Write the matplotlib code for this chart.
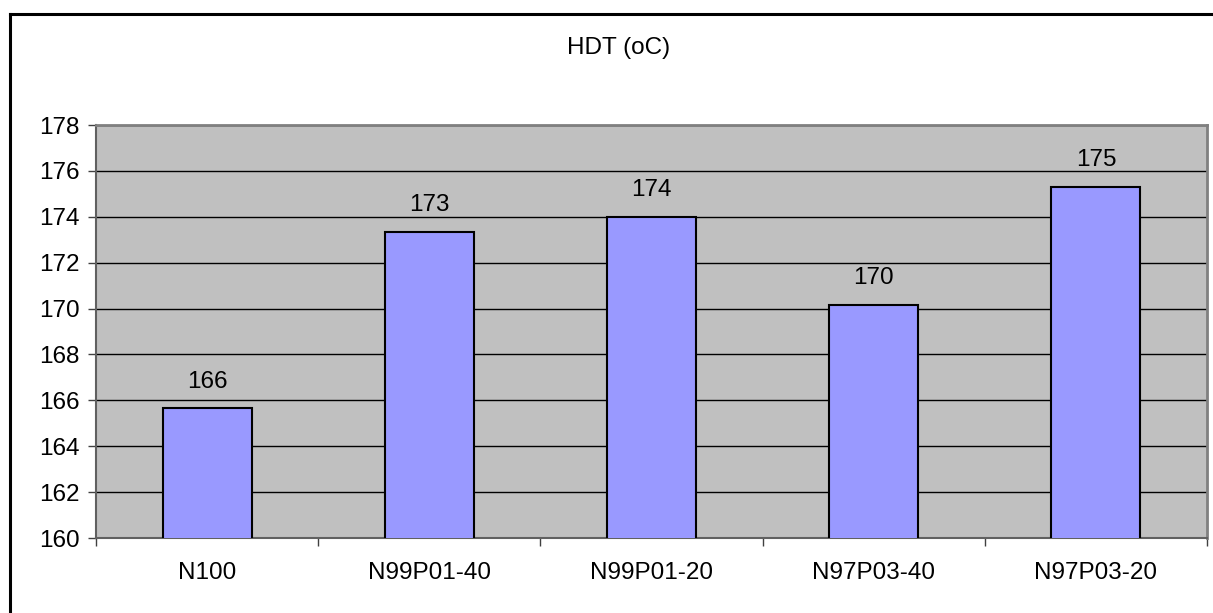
import matplotlib.pyplot as plt
from matplotlib.lines import Line2D

# Data
samples = ['N100', 'N99P01-40', 'N99P01-20', 'N97P03-40', 'N97P03-20']
hdt = [165.65, 173.35, 174.0, 170.15, 175.3]
y_ticks = list(range(160, 179, 2))

plt.rcParams['font.family'] = ['Liberation Sans', 'DejaVu Sans']
fs = 17.5

fig = plt.figure(figsize=(12.13, 6.13), dpi=100)
fig.patch.set_facecolor('white')

# Outer chart frame (left and top edges only, rest runs off the image)
fig.add_artist(Line2D([10 / 1213, 10 / 1213], [0, 1 - 14 / 613], color='black', lw=2.2,
                      transform=fig.transFigure))
fig.add_artist(Line2D([10 / 1213, 1], [1 - 14 / 613, 1 - 14 / 613], color='black', lw=2.2,
                      transform=fig.transFigure))

ax = fig.add_axes([96 / 1213, 1 - 538 / 613, (1207 - 96) / 1213, (538 - 125) / 613])
ax.set_facecolor('#C0C0C0')

x = range(len(samples))
ax.bar(x, hdt, width=0.4, bottom=0, color='#9999FF', edgecolor='black', linewidth=1.5, zorder=3)

# Value labels above bars
for i, v in enumerate(hdt):
    ax.annotate(f"{v:.0f}", xy=(i, v), xytext=(0, 15), textcoords='offset points',
                ha='center', va='baseline', fontsize=fs, color='black', zorder=4)

ax.set_ylim(160, 178)
ax.set_xlim(-0.5, len(samples) - 0.5)
ax.set_yticks(y_ticks)
ax.set_yticklabels([str(t) for t in y_ticks], fontsize=fs)
ax.set_xticks(x)
ax.set_xticklabels(samples, fontsize=fs)
# category boundary ticks on x axis
ax.set_xticks([i - 0.5 for i in range(len(samples) + 1)], minor=True)
ax.tick_params(axis='x', which='major', length=0, pad=17)
ax.tick_params(axis='x', which='minor', length=6, width=1, color='#404040')
ax.tick_params(axis='y', length=6, width=1, color='#404040', pad=6)

ax.yaxis.grid(True, color='black', linewidth=1)
ax.set_axisbelow(True)
for side in ['top', 'right']:
    ax.spines[side].set_color('#808080')
    ax.spines[side].set_linewidth(2)
for side in ['left', 'bottom']:
    ax.spines[side].set_color('#606060')
    ax.spines[side].set_linewidth(1.5)

fig.text(619 / 1213, 1 - 48 / 613, 'HDT (oC)', ha='center', va='center', fontsize=fs)

plt.savefig('out.png', dpi=100)
